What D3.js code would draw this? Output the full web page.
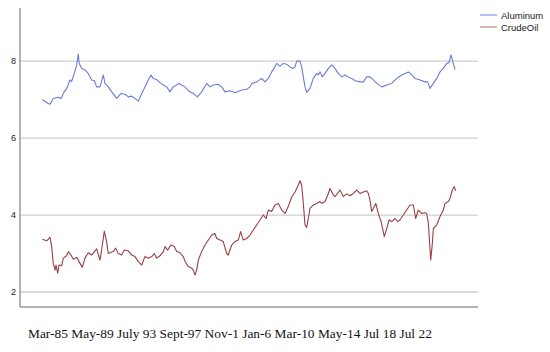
<!DOCTYPE html>
<html>
<head>
<meta charset="utf-8">
<script src="https://cdn.jsdelivr.net/npm/d3@7"></script>
<style>
	body { margin: 0; background: #fff; }
	svg { display: block; }
</style>
</head>
<body>
<svg id="chart" width="550" height="352"></svg>
<script>
// values (years as decimals, log-ish price levels)
var aluminumYears = [1985.2,1985.74,1985.9,1986.19,1986.64,1986.89,1987.1,1987.4,1987.7,1987.85,1988.09,1988.31,1988.45,1988.54,1988.76,1989.06,1989.35,1989.66,1989.9,1990.11,1990.41,1990.71,1990.86,1991.16,1991.47,1991.92,1992.31,1992.67,1992.97,1993.27,1993.57,1993.87,1994.18,1994.47,1994.77,1995.02,1995.22,1995.53,1995.83,1996.13,1996.43,1996.73,1997.03,1997.54,1997.79,1998.09,1998.38,1998.84,1999.2,1999.59,2000.04,2000.34,2000.64,2001.04,2001.4,2001.7,2002.15,2002.6,2003.2,2003.66,2003.96,2004.11,2004.56,2005.01,2005.31,2005.61,2005.91,2006.21,2006.36,2006.66,2006.96,2007.27,2007.56,2007.86,2008.02,2008.17,2008.47,2008.62,2008.77,2008.92,2009.07,2009.37,2009.67,2009.98,2010.12,2010.28,2010.48,2010.73,2011.03,2011.33,2011.63,2011.93,2012.24,2012.54,2012.83,2013.14,2013.44,2013.89,2014.19,2014.49,2014.79,2015.09,2015.4,2015.85,2016.3,2016.75,2017.2,2017.65,2017.95,2018.25,2018.56,2018.86,2019.31,2019.76,2020.0,2020.21,2020.51,2020.81,2021.11,2021.41,2021.72,2021.92,2022.1,2022.31,2022.47];
var aluminumValues = [7.00,6.90,6.88,7.03,7.06,7.03,7.16,7.29,7.51,7.47,7.68,7.90,8.18,7.94,7.81,7.77,7.68,7.51,7.49,7.33,7.33,7.64,7.42,7.33,7.20,7.03,7.16,7.14,7.07,7.09,7.03,6.96,7.16,7.33,7.51,7.64,7.55,7.52,7.44,7.38,7.33,7.20,7.33,7.42,7.38,7.33,7.23,7.16,7.07,7.20,7.42,7.33,7.38,7.40,7.33,7.20,7.23,7.18,7.25,7.27,7.33,7.42,7.46,7.55,7.46,7.55,7.72,7.85,7.94,7.87,7.94,7.92,7.85,7.81,7.85,8.00,8.00,7.85,7.59,7.33,7.19,7.29,7.55,7.68,7.64,7.72,7.59,7.68,7.81,7.90,7.81,7.68,7.59,7.64,7.59,7.55,7.49,7.46,7.46,7.59,7.59,7.51,7.42,7.33,7.38,7.42,7.55,7.64,7.68,7.72,7.64,7.55,7.51,7.46,7.46,7.29,7.42,7.55,7.72,7.81,7.94,7.96,8.16,7.94,7.78];

var crudeYears = [1985.2,1985.6,1985.9,1986.05,1986.19,1986.35,1986.44,1986.59,1986.71,1986.95,1987.1,1987.4,1987.55,1987.79,1988.0,1988.31,1988.6,1988.81,1989.06,1989.35,1989.66,1990.11,1990.41,1990.56,1990.8,1991.01,1991.16,1991.31,1991.61,1991.83,1992.06,1992.37,1992.6,1992.97,1993.27,1993.57,1993.87,1994.18,1994.47,1994.77,1995.08,1995.31,1995.53,1995.83,1996.13,1996.28,1996.52,1996.82,1997.12,1997.34,1997.63,1997.93,1998.09,1998.38,1998.69,1998.84,1998.99,1999.14,1999.29,1999.59,1999.89,2000.19,2000.5,2000.79,2000.95,2001.25,2001.54,2001.85,2001.99,2002.3,2002.6,2002.9,2003.11,2003.35,2003.66,2003.96,2004.25,2004.56,2004.86,2005.16,2005.4,2005.61,2005.91,2006.21,2006.51,2006.82,2007.12,2007.41,2007.72,2008.02,2008.32,2008.47,2008.62,2008.77,2008.92,2009.07,2009.22,2009.37,2009.67,2009.98,2010.28,2010.43,2010.73,2011.03,2011.18,2011.48,2011.63,2012.08,2012.38,2012.69,2012.99,2013.28,2013.59,2013.89,2014.19,2014.49,2014.64,2014.79,2014.94,2015.09,2015.31,2015.54,2015.79,2016.08,2016.3,2016.51,2016.75,2017.05,2017.29,2017.5,2017.8,2018.1,2018.4,2018.7,2018.91,2019.15,2019.46,2019.76,2019.91,2020.06,2020.27,2020.42,2020.51,2020.81,2021.11,2021.41,2021.56,2021.86,2022.01,2022.22,2022.4,2022.52];
var crudeValues = [3.37,3.33,3.42,3.18,2.75,2.57,2.70,2.49,2.70,2.68,2.88,2.94,3.05,2.96,2.85,2.90,2.75,2.64,2.88,3.02,2.96,3.12,2.83,3.09,3.58,3.31,3.00,3.02,3.05,3.14,3.00,2.96,3.09,3.07,2.96,2.92,2.79,2.70,2.92,2.88,2.92,3.00,2.88,2.94,3.05,3.18,3.09,3.22,3.18,3.05,3.02,2.92,2.80,2.66,2.62,2.57,2.44,2.57,2.83,3.05,3.22,3.35,3.48,3.52,3.39,3.35,3.31,3.00,2.96,3.22,3.31,3.35,3.57,3.35,3.39,3.48,3.61,3.74,3.87,4.00,3.91,4.13,4.09,4.26,4.30,4.13,4.04,4.22,4.47,4.60,4.78,4.89,4.78,4.30,3.74,3.68,3.91,4.17,4.26,4.30,4.35,4.30,4.35,4.56,4.69,4.52,4.48,4.65,4.48,4.55,4.50,4.56,4.65,4.56,4.60,4.63,4.56,4.39,4.09,4.17,4.30,4.04,3.83,3.44,3.65,3.87,3.83,3.91,3.83,3.87,4.00,4.13,4.26,4.26,3.91,4.13,4.04,4.06,4.04,3.78,2.83,3.26,3.65,3.74,3.96,4.13,4.30,4.35,4.43,4.65,4.74,4.63];

var yTicks = [2, 4, 6, 8];
var seriesNames = ["Aluminum", "CrudeOil"];
var seriesColors = ["#6b7bd6", "#9a3f45"];
var dateLabels = ["Mar-85", "May-89", "July 93", "Sept-97", "Nov-1", "Jan-6", "Mar-10", "May-14", "Jul 18", "Jul 22"];

(function()
{
	var svg = d3.select("#chart");

	var plotLeft = 20, plotRight = 478, plotTop = 8, plotBottom = 307;

	var x = d3.scaleLinear()
		.domain([1983.19, 2024.54])
		.range([plotLeft, plotRight]);

	var y = d3.scaleLinear()
		.domain([1.61, 9.38])
		.range([plotBottom, plotTop]);

	// gridlines
	svg.append("g")
		.selectAll("line.grid")
		.data(yTicks)
		.enter().append("line")
		.classed("grid", 1)
		.attr("x1", plotLeft)
		.attr("x2", plotRight)
		.attr("y1", function(d) { return y(d); })
		.attr("y2", function(d) { return y(d); })
		.attr("stroke", "#cfcfcf")
		.attr("stroke-width", 1.3);

	// left axis, labels only
	var yAxis = d3.axisLeft(y).tickValues(yTicks).tickSize(0).tickPadding(4).tickFormat(d3.format("d"));
	var yAxisG = svg.append("g")
		.attr("transform", "translate(" + plotLeft + ",0)")
		.call(yAxis);
	yAxisG.select(".domain").remove();
	yAxisG.selectAll("text")
		.attr("font-family", "Arial, 'Liberation Sans', sans-serif")
		.attr("font-size", "9px")
		.attr("fill", "#222");

	svg.append("line")
		.attr("x1", plotLeft).attr("x2", plotLeft)
		.attr("y1", plotTop).attr("y2", plotBottom)
		.attr("stroke", "#8a8a8a")
		.attr("stroke-width", 1.3);

	svg.append("line")
		.attr("x1", plotLeft).attr("x2", plotRight)
		.attr("y1", plotBottom).attr("y2", plotBottom)
		.attr("stroke", "#9a9a9a")
		.attr("stroke-width", 1.3);

	var line = d3.line()
		.x(function(d) { return x(d[0]); })
		.y(function(d) { return y(d[1]); });

	var series = [
		d3.zip(aluminumYears, aluminumValues),
		d3.zip(crudeYears, crudeValues)
	];

	svg.selectAll("path.series")
		.data(series)
		.enter().append("path")
		.classed("series", 1)
		.attr("d", line)
		.attr("fill", "none")
		.attr("stroke", function(d, i) { return seriesColors[i]; })
		.attr("stroke-width", 1.1)
		.attr("stroke-linejoin", "round");

	// legend
	var legend = svg.selectAll("g.legend")
		.data(seriesNames)
		.enter().append("g")
		.classed("legend", 1)
		.attr("transform", function(d, i) { return "translate(480," + (15 + i * 12) + ")"; });

	legend.append("line")
		.attr("x1", 0).attr("x2", 17)
		.attr("stroke", function(d, i) { return i ? "#a06a60" : seriesColors[i]; })
		.attr("stroke-width", 1);

	legend.append("text")
		.text(function(d) { return d; })
		.attr("x", 21)
		.attr("y", 4)
		.attr("font-family", "Arial, 'Liberation Sans', sans-serif")
		.attr("font-size", "9.5px")
		.attr("fill", "#222");

	// the date line under the chart
	var dates = svg.append("text")
		.text(dateLabels.join(" "))
		.attr("x", 28)
		.attr("y", 338)
		.attr("font-family", "'Liberation Serif', 'DejaVu Serif', serif")
		.attr("font-size", "14px")
		.attr("fill", "#111");

	var w = dates.node().getComputedTextLength();
	dates.attr("font-size", (14 * 404 / w).toFixed(2) + "px");
})();
</script>
</body>
</html>
